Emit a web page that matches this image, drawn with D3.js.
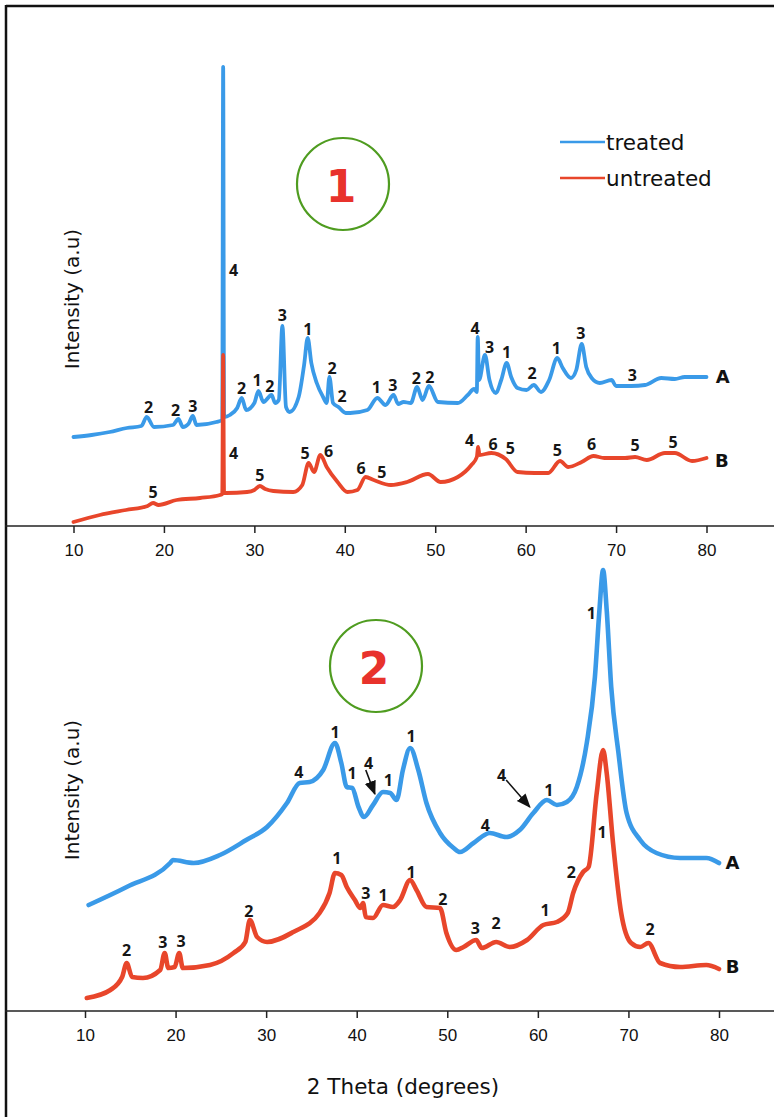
<!DOCTYPE html>
<html><head><meta charset="utf-8">
<script src="https://cdn.jsdelivr.net/npm/d3@7"></script>
<style>body{margin:0;background:#fff} svg{display:block}</style>
</head><body><svg id="c" width="774" height="1117"></svg>
<script>
// ---------- DATA ----------
const thetaTicks = [10,20,30,40,50,60,70,80];
const seriesNames = ["treated","untreated"];

// Panel 1 (2θ, intensity a.u.)
const p1Treated = [[10,88],[12,90],[14,93],[15.9,97],[17.5,99],[18.1,108],[18.9,98],[21.0,100],[21.6,106],[22.1,98],[22.7,101],[23.2,109],[23.6,100],[25.8,103],[26.45,105],[26.55,458],[26.65,108],[27.3,110],[28.1,117],[28.6,127],[29.1,115],[30.0,122],[30.45,134],[31.0,123],[31.9,130],[32.3,122],[32.7,125],[33.1,199],[33.5,118],[33.9,113],[34.9,128],[35.5,160],[35.9,187],[36.3,162],[36.9,142],[37.6,128],[38.0,122],[38.3,148],[38.7,122],[39.3,118],[40.1,112],[40.6,112],[42.5,115],[43.6,127],[44.5,120],[45.4,130],[45.9,121],[46.5,123],[47.3,122],[48.0,138],[48.6,125],[49.3,139],[50.3,123],[52.5,122],[53.6,130],[54.3,136],[54.6,133],[54.7,188],[54.85,145],[55.5,170],[56.0,145],[56.7,132],[57.3,145],[57.9,162],[58.4,148],[59.1,137],[60.1,135],[60.9,140],[61.7,133],[62.6,145],[63.5,167],[64.1,157],[65.0,147],[65.6,155],[66.2,181],[66.7,158],[67.3,147],[68.2,142],[69.5,145],[70.0,139],[71.7,139],[73.2,140],[75.0,147],[76.5,146],[77.6,148],[78.7,148],[80,148]];
const p1Untreated = [[10,3],[12.9,10],[15.8,15],[18.2,19],[18.8,22],[19.4,20],[21.4,25],[24.0,27],[26.2,30],[26.45,31],[26.55,170],[26.65,32],[26.9,32],[29.2,33],[30.0,35],[30.6,39],[31.2,36],[32.1,34],[34.3,33],[35.3,40],[36.0,62],[36.6,53],[37.3,70],[38.0,58],[39.2,43],[40.3,33],[41.4,35],[42.3,48],[43.2,45],[45.1,40],[46.9,43],[49.2,51],[50.6,43],[52.5,48],[54.0,60],[54.6,68],[54.75,78],[54.9,70],[56.2,72],[57.8,66],[59.1,53],[61.0,52],[62.5,52],[63.8,64],[64.7,58],[66.2,63],[67.5,69],[68.7,67],[71.0,67],[72.1,68],[73.4,65],[75.4,72],[76.5,72],[78.4,64],[80,67]];

// Panel 2
const p2Treated = [[10.4,106],[14.6,124],[19.4,148],[19.7,151],[22.0,148],[24.9,156],[27.8,171],[30.1,184],[32.3,208],[33.7,228],[34.8,229],[36.3,241],[37.6,268],[38.3,248],[38.9,224],[39.5,223],[40.2,204],[40.8,194],[41.8,206],[42.9,219],[43.7,218],[44.4,211],[45.1,241],[45.9,263],[46.8,241],[47.7,208],[49.2,178],[50.7,163],[51.4,159],[52.9,168],[54.7,178],[56.5,174],[58.0,181],[59.5,198],[61.0,211],[62.1,206],[63.2,209],[64.3,224],[65.4,268],[66.3,334],[66.8,401],[67.2,441],[67.6,401],[68.1,324],[68.9,258],[69.8,198],[71.3,171],[73.1,158],[75.7,153],[78.6,153],[80,148]];
const p2Untreated = [[10.2,13],[12.8,21],[14.1,34],[14.6,48],[15.2,34],[16.4,33],[18.3,41],[18.8,58],[19.2,43],[19.9,44],[20.4,58],[20.8,43],[23.8,46],[26.4,58],[27.7,69],[28.2,91],[29.0,74],[30.1,69],[33.0,79],[35.9,98],[37.0,118],[37.6,138],[38.3,136],[38.9,124],[39.8,111],[40.4,103],[40.7,108],[41.0,94],[41.8,93],[42.9,106],[44.0,104],[44.8,111],[45.9,131],[46.6,121],[47.7,104],[49.2,103],[49.9,78],[51.0,61],[51.8,64],[53.2,71],[53.8,63],[55.4,69],[56.9,64],[58.8,71],[60.6,86],[62.1,89],[63.3,98],[63.9,118],[65.0,139],[65.6,144],[66.5,218],[67.2,261],[67.6,238],[68.3,168],[69.2,98],[70.3,68],[71.3,64],[72.2,68],[73.5,48],[75.7,44],[78.6,46],[80,42]];

// Phase labels [2θ, intensity, label]
const p1TreatedLabels = [[18.3,118,"2"],[21.3,115,"2"],[23.2,119,"3"],[27.7,255,"4"],[28.6,137,"2"],[30.3,145,"1"],[31.7,139,"2"],[33.1,210,"3"],[35.9,196,"1"],[38.6,157,"2"],[39.7,129,"2"],[43.5,138,"1"],[45.3,140,"3"],[47.9,147,"2"],[49.4,148,"2"],[54.4,197,"4"],[56.0,178,"3"],[57.9,173,"1"],[60.7,152,"2"],[63.4,177,"1"],[66.1,192,"3"],[71.8,150,"3"]];
const p1UntreatedLabels = [[18.8,33,"5"],[27.7,72,"4"],[30.6,50,"5"],[35.6,72,"5"],[38.2,74,"6"],[41.8,57,"6"],[44.1,53,"5"],[53.8,85,"4"],[56.4,81,"6"],[58.3,77,"5"],[63.5,75,"5"],[67.3,81,"6"],[72.1,80,"5"],[76.3,83,"5"]];
const p2TreatedLabels = [[33.6,239,"4"],[37.6,279,"1"],[39.5,238,"1"],[41.3,248,"4"],[43.5,231,"1"],[46.0,275,"1"],[56.0,236,"4"],[61.2,221,"1"],[54.2,186,"4"],[65.9,398,"1"]];
const p2UntreatedLabels = [[14.6,61,"2"],[18.6,69,"3"],[20.6,70,"3"],[28.1,100,"2"],[37.8,153,"1"],[41.0,118,"3"],[42.9,116,"1"],[46.0,139,"1"],[49.5,112,"2"],[53.1,83,"3"],[55.4,88,"2"],[60.8,101,"1"],[63.7,139,"2"],[67.1,179,"1"],[72.4,82,"2"]];
// arrows [from2θ, fromI, to2θ, toI]
const p2Arrows = [[41.0,241,42.0,217],[56.5,231,59.1,204]];
const sampleLabels = [["A",81.8,149,"B",81.7,65],["A",81.5,149,"B",81.5,45]];
const panelNumbers = ["1","2"];

// ---------- DRAW ----------
const svg = d3.select("#c");
const BLUE = "#3a9ae8", RED = "#e8462b";

const defs = svg.append("defs");
defs.append("marker").attr("id","ah").attr("viewBox","0 0 10 10").attr("refX",9).attr("refY",5)
  .attr("markerWidth",9).attr("markerHeight",9).attr("orient","auto")
  .append("path").attr("d","M0,1 L10,5 L0,9 Z").attr("fill","#111");

// frame
svg.append("line").attr("x1",6).attr("y1",6).attr("x2",774).attr("y2",6).attr("stroke","#111").attr("stroke-width",2.5);
svg.append("line").attr("x1",6).attr("y1",5).attr("x2",6).attr("y2",1117).attr("stroke","#111").attr("stroke-width",2.5);

const panels = [
  {xr:[73.5,706.5], ay:526, yr:[525,55], tr:p1Treated, un:p1Untreated, tl:p1TreatedLabels, ul:p1UntreatedLabels, arrows:[], circle:[343,184], ylab:299, sw:3.8},
  {xr:[85,719], ay:1011, yr:[1011,541], tr:p2Treated, un:p2Untreated, tl:p2TreatedLabels, ul:p2UntreatedLabels, arrows:p2Arrows, circle:[376,666], ylab:790, sw:4.6}
];

panels.forEach((p,i)=>{
  const x = d3.scaleLinear().domain([10,80]).range(p.xr);
  const y = d3.scaleLinear().domain([0,470]).range(p.yr);
  const g = svg.append("g");
  const line = d3.line().x(d=>x(d[0])).y(d=>y(d[1])).curve(d3.curveMonotoneX);

  g.append("line").attr("x1",5).attr("x2",774).attr("y1",p.ay).attr("y2",p.ay).attr("stroke","#222").attr("stroke-width",1.5);
  const ax = g.append("g").attr("transform",`translate(0,${p.ay})`)
    .call(d3.axisBottom(x).tickValues(thetaTicks).tickSize(7).tickPadding(11).tickFormat(d3.format("d")));
  ax.select(".domain").remove();
  ax.selectAll(".tick line").attr("stroke","#222").attr("stroke-width",1.5);
  ax.selectAll(".tick text").attr("font-family","'Liberation Sans', Arial, sans-serif").attr("font-size",17).attr("fill","#111");

  g.append("text").attr("transform",`translate(72,${p.ylab}) rotate(-90)`).attr("text-anchor","middle")
    .attr("dominant-baseline","central").attr("font-family","'DejaVu Sans', sans-serif").attr("font-size",20).attr("fill","#111")
    .text("Intensity (a.u)");

  g.append("path").datum(p.tr).attr("d",line).attr("fill","none").attr("stroke",BLUE).attr("stroke-width",p.sw).attr("stroke-linejoin","round").attr("stroke-linecap","round");
  g.append("path").datum(p.un).attr("d",line).attr("fill","none").attr("stroke",RED).attr("stroke-width",p.sw).attr("stroke-linejoin","round").attr("stroke-linecap","round");

  const lab = (arr)=> g.selectAll(null).data(arr).enter().append("text")
    .attr("x",d=>x(d[0])).attr("y",d=>y(d[1])).attr("text-anchor","middle").attr("dominant-baseline","central")
    .attr("font-family","'Open Sans', sans-serif").attr("font-weight",700).attr("font-size",16).attr("fill","#161616").text(d=>d[2]);
  lab(p.tl); lab(p.ul);

  p.arrows.forEach(a=>{
    g.append("line").attr("x1",x(a[0])).attr("y1",y(a[1])).attr("x2",x(a[2])).attr("y2",y(a[3]))
      .attr("stroke","#111").attr("stroke-width",1.6).attr("marker-end","url(#ah)");
  });

  const s = sampleLabels[i];
  [[s[0],s[1],s[2]],[s[3],s[4],s[5]]].forEach(t=>{
    g.append("text").attr("x",x(t[1])).attr("y",y(t[2])).attr("text-anchor","middle").attr("dominant-baseline","central")
      .attr("font-family","'DejaVu Sans', sans-serif").attr("font-weight","bold").attr("font-size",18).attr("fill","#111").text(t[0]);
  });

  g.append("circle").attr("cx",p.circle[0]).attr("cy",p.circle[1]).attr("r",46).attr("fill","none").attr("stroke","#4f9c20").attr("stroke-width",2.2);
  g.append("text").attr("x",p.circle[0]-2).attr("y",p.circle[1]+2).attr("text-anchor","middle").attr("dominant-baseline","central")
    .attr("font-family","'DejaVu Sans', sans-serif").attr("font-weight","bold").attr("font-size",44).attr("fill","#e8322c").text(panelNumbers[i]);
});

const lg = svg.append("g");
[[BLUE,142,seriesNames[0]],[RED,178,seriesNames[1]]].forEach(d=>{
  lg.append("line").attr("x1",560).attr("x2",605).attr("y1",d[1]).attr("y2",d[1]).attr("stroke",d[0]).attr("stroke-width",2.5);
  lg.append("text").attr("x",606).attr("y",d[1]).attr("dominant-baseline","central").attr("font-family","'DejaVu Sans', sans-serif")
    .attr("font-size",21.5).attr("fill","#111").text(d[2]);
});

svg.append("text").attr("x",403).attr("y",1086).attr("text-anchor","middle").attr("dominant-baseline","central")
  .attr("font-family","'DejaVu Sans', sans-serif").attr("font-size",21.5).attr("fill","#111").text("2 Theta (degrees)");
</script></body></html>
